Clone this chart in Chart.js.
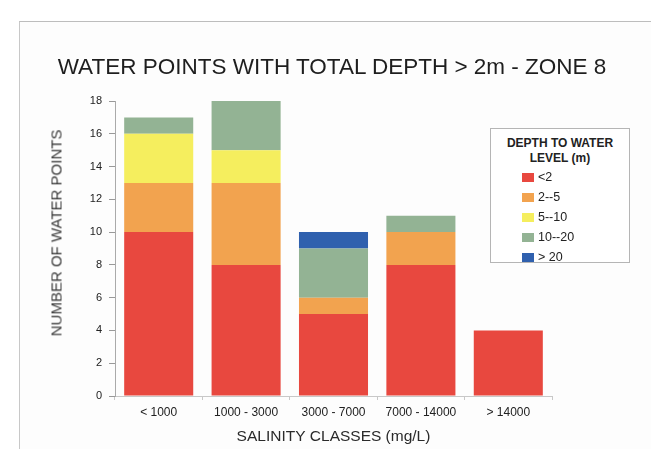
<!DOCTYPE html>
<html>
<head>
<meta charset="utf-8">
<script src="https://cdn.jsdelivr.net/npm/chart.js@4"></script>
<style>
  html, body { margin: 0; padding: 0; background: #fff; }
  #wrap { position: relative; width: 651px; height: 449px; overflow: hidden; font-family: "Liberation Sans", Arial, sans-serif; }
  #frame {
    position: absolute; left: 19px; top: 21px; width: 640px; height: 440px;
    border-top: 1px solid #bdbdbd; border-left: 1px solid #c8c8c8; background: #fdfdfd;
  }
  #chart { position: absolute; left: 0; top: 0; }
  #title {
    position: absolute; left: 0; width: 664px; top: 53px; text-align: center;
    font-size: 22.5px; line-height: 28px; color: #1e1e1e; white-space: nowrap;
  }
  #ytitle {
    position: absolute; left: 56px; top: 233px; transform: translate(-50%, -50%) rotate(-90deg);
    font-size: 15px; font-weight: normal; color: #3c3c3c; white-space: nowrap;
  }
  #legend {
    position: absolute; left: 490px; top: 128px; width: 140px; height: 135px;
    border: 1px solid #b5b5b5; background: #fff; box-sizing: border-box; color: #222;
  }
  #legend .ttl { font-weight: bold; font-size: 12px; text-align: center; line-height: 15px; margin-top: 7px; }
  #legend .item { position: absolute; left: 31px; font-size: 12.5px; height: 20px; line-height: 20px; }
  #legend .sw { display: inline-block; width: 12px; height: 9px; margin-right: 4px; vertical-align: -1px; }
</style>
</head>
<body>
<div id="wrap">
  <div id="frame"></div>
  <canvas id="chart" width="651" height="449"></canvas>
  <div id="title"></div>
  <div id="ytitle"></div>
  <div id="legend"></div>
</div>
<script>
const chartTitle = "WATER POINTS WITH TOTAL DEPTH > 2m - ZONE 8";
const xTitle = "SALINITY CLASSES (mg/L)";
const yTitle = "NUMBER OF WATER POINTS";
const legendTitle = ["DEPTH TO WATER", "LEVEL (m)"];
const categories = ["< 1000", "1000 - 3000", "3000 - 7000", "7000 - 14000", "> 14000"];
const seriesNames = ["<2", "2--5", "5--10", "10--20", "> 20"];
const lessThan2 = [10, 8, 5, 8, 4];
const from2to5 = [3, 5, 1, 2, 0];
const from5to10 = [3, 2, 0, 0, 0];
const from10to20 = [1, 3, 3, 1, 0];
const moreThan20 = [0, 0, 1, 0, 0];
const yTicks = [0, 2, 4, 6, 8, 10, 12, 14, 16, 18];
const colors = ["#e8483f", "#f2a34f", "#f5ee5e", "#93b394", "#2f60ae"];

const seriesValues = [lessThan2, from2to5, from5to10, from10to20, moreThan20];
const FONT = "'Liberation Sans', Arial, sans-serif";

document.getElementById("title").textContent = chartTitle;
document.getElementById("ytitle").textContent = yTitle;

const datasets = seriesValues.map((vals, i) => ({
  label: seriesNames[i],
  data: vals,
  backgroundColor: colors[i],
  borderWidth: 0,
  barPercentage: 0.79,
  categoryPercentage: 1,
}));

new Chart(document.getElementById("chart"), {
  type: "bar",
  data: { labels: categories, datasets },
  options: {
    responsive: false,
    animation: false,
    layout: { padding: { left: 38, right: 99, top: 101, bottom: 2.5 } },
    plugins: {
      legend: { display: false },
      tooltip: { enabled: false },
    },
    scales: {
      x: {
        stacked: true,
        grid: { drawOnChartArea: false, tickLength: 4, color: "#c8c8c8" },
        border: { color: "#c8c8c8" },
        ticks: { color: "#222", font: { family: FONT, size: 12 }, padding: 5, maxRotation: 0 },
        title: {
          display: true,
          text: xTitle,
          color: "#2a2a2a",
          font: { family: FONT, size: 15.5 },
          padding: 0,
        },
        afterFit: (s) => { s.height = 50.5; },
      },
      y: {
        stacked: true,
        min: 0,
        max: 18,
        afterBuildTicks: (s) => { s.ticks = yTicks.map((v) => ({ value: v })); },
        grid: { drawOnChartArea: false, tickLength: 6, color: "#999" },
        border: { color: "#aaa" },
        ticks: { color: "#222", font: { family: FONT, size: 11 }, padding: 7 },
        afterFit: (s) => { s.width = 77; },
      },
    },
  },
});

// legend box sits inside the plot, as in the original
const legend = document.getElementById("legend");
legend.innerHTML = '<div class="ttl">' + legendTitle.join("<br>") + "</div>";
seriesNames.forEach((name, i) => {
  const row = document.createElement("div");
  row.className = "item";
  row.style.top = (38 + i * 20) + "px";
  row.innerHTML = '<span class="sw" style="background:' + colors[i] + '"></span>' + name.replace(">", "&gt;").replace("<", "&lt;");
  legend.appendChild(row);
});
</script>
</body>
</html>
